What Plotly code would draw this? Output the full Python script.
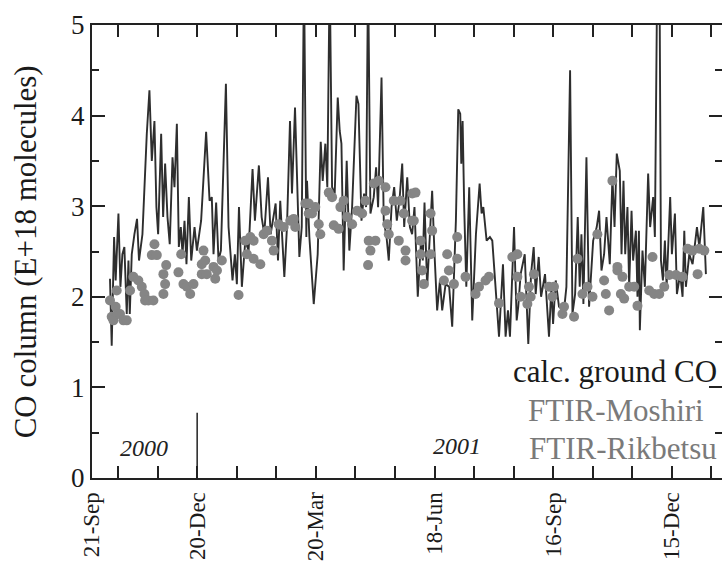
import pandas as pd
import plotly.graph_objects as go

# ---------------- data ----------------
base_date = "2000-09-21"   # day 0 of the day counters below

calc_day = [23.9, 25.2, 27.0, 28.2, 30.3, 31.8, 33.3, 34.8, 36.6, 37.9, 38.9, 40.4, 42.4, 44.4, 45.9,
            48.5, 51.8, 53.8, 55.6, 57.6, 59.1, 60.4, 62.7, 64.2, 65.7, 67.5, 69.2, 71.3, 72.8, 74.6,
            76.1, 77.6, 78.9, 80.4, 81.9, 83.7, 85.5, 88.0, 89.8, 93.0, 96.8, 99.4, 101.1, 102.4, 104.4,
            106.2, 108.0, 110.0, 111.8, 113.8, 116.8, 118.6, 120.1, 121.7, 123.9, 126.5, 129.0, 132.0,
            133.8, 136.8, 138.9, 140.9, 143.7, 145.7, 149.5, 151.3, 153.0, 156.1, 158.1, 160.4, 161.9,
            164.2, 165.7, 167.5, 169.3, 171.0, 172.8, 173.3, 175.1, 178.4, 181.4, 183.7, 185.2, 187.2,
            188.7, 190.5, 192.3, 194.3, 196.6, 198.1, 199.4, 201.1, 203.4, 205.4, 207.5, 209.2, 210.8,
            212.3, 214.6, 216.6, 218.1, 219.6, 221.4, 223.9, 225.7, 227.2, 229.8, 231.5, 233.6, 235.3,
            237.4, 239.4, 241.4, 243.4, 245.5, 247.0, 249.3, 251.3, 253.0, 254.8, 257.3, 259.9, 261.1,
            262.4, 264.4, 266.5, 268.2, 270.0, 272.0, 274.1, 275.8, 278.4, 281.1, 283.4, 286.2, 288.0,
            289.5, 290.3, 291.3, 292.5, 294.1, 296.3, 298.6, 301.4, 304.2, 305.7, 307.0, 309.5, 312.0,
            313.8, 315.6, 318.9, 321.9, 323.9, 325.7, 327.2, 330.3, 332.3, 333.5, 335.3, 338.4, 341.1,
            343.2, 345.2, 346.7, 349.0, 350.8, 353.8, 356.8, 358.6, 359.9, 361.9, 364.4, 368.2, 370.0,
            372.8, 374.6, 376.6, 378.6, 380.1, 381.4, 382.9, 385.2, 387.2, 390.3, 393.0, 394.8, 396.6,
            398.6, 400.4, 402.9, 404.9, 406.5, 408.2, 410.5, 411.8, 413.3, 414.6, 416.3, 417.6, 419.4,
            420.6, 422.7, 423.9, 425.0, 425.7, 427.7, 429.5, 432.0, 433.5, 435.8, 437.1, 438.9, 440.6,
            441.7, 443.2, 444.7, 446.0, 448.7, 450.0, 452.3, 453.8, 456.3, 458.1, 459.4, 460.6, 463.2,
            465.7, 469.0, 470.8, 473.8, 475.8]
calc_co = [2.20, 1.46, 2.66, 2.18, 2.92, 2.11, 2.47, 2.55, 1.81, 2.40, 1.81, 2.47, 2.69, 2.86, 2.40,
           2.69, 3.80, 4.28, 3.50, 3.94, 2.99, 2.69, 3.80, 2.88, 3.47, 2.88, 2.58, 3.54, 3.21, 3.91,
           2.55, 2.77, 2.47, 2.84, 2.36, 3.10, 2.40, 2.77, 2.51, 2.84, 3.82, 3.06, 3.10, 2.47, 3.04,
           2.40, 2.51, 3.58, 4.35, 2.77, 2.18, 2.47, 2.14, 2.99, 2.11, 2.62, 2.51, 3.41,
           2.84, 3.45, 2.88, 2.69, 3.32, 2.69, 3.03, 2.40, 3.06, 2.22, 2.77, 3.94, 3.14,
           4.09, 3.28, 2.44, 2.77, 5.60, 2.66, 3.28, 2.66, 1.92, 2.47, 3.71, 3.28, 3.69,
           3.21, 5.60, 3.21, 3.14, 4.20, 3.83, 3.69, 2.29, 3.50, 2.51, 2.99, 3.58, 4.22,
           4.13, 2.84, 3.14, 2.99, 5.60, 2.92, 3.10, 3.43, 2.99, 4.42, 2.84, 2.66, 2.40,
           2.99, 3.21, 2.84, 3.06, 3.47, 2.77, 3.32, 2.77, 2.69, 2.99, 2.00, 2.66, 2.40,
           3.04, 2.11, 2.69, 3.17, 2.47, 1.85, 2.18, 1.85, 2.14, 2.11, 1.67, 2.84, 4.07,
           4.02, 3.47, 3.94, 2.99, 2.11, 3.21, 1.74, 2.69, 3.25, 2.92, 2.99, 2.62, 2.66,
           2.62, 2.25, 1.56, 2.36, 1.56, 1.85, 1.56, 2.77, 1.74, 1.89, 2.25, 2.47, 1.48,
           2.25, 2.55, 2.03, 2.44, 2.00, 2.25, 1.56, 2.11, 1.70, 2.18, 1.89, 1.85, 2.11,
           4.50, 1.81, 2.03, 2.88, 2.11, 2.69, 1.92, 3.54, 1.89, 2.62, 2.77, 2.95, 2.29,
           2.47, 2.88, 2.36, 3.32, 2.77, 3.58, 3.39, 2.47, 3.28, 2.47, 2.99, 2.11, 2.95,
           2.40, 2.73, 2.00, 2.73, 1.63, 2.51, 2.11, 3.36, 2.77, 3.10, 2.66, 5.60, 5.60,
           2.40, 2.18, 2.62, 2.11, 3.10, 2.47, 2.92, 2.03, 2.25, 2.00, 2.73, 2.11, 2.47,
           2.36, 2.77, 2.55, 2.99, 2.25]

moshiri_day = [23.9, 25.2, 26.5, 28.2, 29.0, 29.7, 31.5, 34.1, 36.6, 39.1, 41.6, 45.4, 48.0, 50.0, 50.5,
               53.0, 55.6, 56.8, 57.6, 59.4, 64.4, 64.4, 65.7, 66.5, 75.8, 77.9, 79.6, 82.2, 84.7, 87.2,
               93.5, 94.8, 96.1, 93.5, 97.3, 102.4, 103.7, 105.0, 108.7, 121.4, 126.5, 127.7, 130.3,
               132.8, 132.8, 137.9, 140.4, 142.9, 146.7, 148.0, 151.8, 155.6, 160.6, 163.2, 164.4,
               172.0, 174.6, 174.6, 177.1, 179.6, 182.2, 183.4, 189.8, 192.3, 193.6, 197.3, 198.6,
               201.1, 203.7, 207.5, 211.3, 215.1, 217.6, 219.6, 220.1, 221.4, 224.0, 225.2, 227.7,
               232.8, 232.8, 234.1, 235.3, 239.1, 242.9, 244.2, 246.7, 248.0, 248.0, 253.1, 254.3]
moshiri_co = [1.96, 1.78, 1.74, 1.89, 2.07, 1.81, 1.81, 1.74, 1.74, 2.07, 2.22, 2.18, 2.11, 2.03, 1.96,
              1.96, 2.46, 1.96, 2.58, 2.46, 2.25, 2.03, 2.14, 2.35, 2.27, 2.47, 2.14, 2.11, 2.03, 2.14,
              2.36, 2.51, 2.40, 2.25, 2.25, 2.33, 2.20, 2.29, 2.40, 2.02, 2.62, 2.47, 2.66,
              2.62, 2.42, 2.36, 2.69, 2.73, 2.62, 2.51, 2.80, 2.77, 2.84, 2.86, 2.77,
              3.03, 2.92, 3.03, 2.92, 2.99, 2.80, 2.69, 3.15, 3.10, 2.79, 2.75, 2.99,
              3.06, 2.88, 2.80, 2.95, 2.92, 3.06, 2.35, 2.62, 2.51, 3.25, 2.62, 3.28,
              3.21, 2.95, 2.80, 2.69, 3.06, 2.62, 3.06, 2.92, 2.51, 2.40, 3.14, 2.84]

rikbetsu_day = [253.0, 255.6, 259.4, 259.4, 260.6, 261.9, 267.0, 268.2, 267.0, 277.1, 279.6, 280.9, 284.7,
                287.2, 287.2, 293.5, 301.1, 303.7, 308.7, 311.3, 318.9, 329.0, 332.8, 332.8, 335.3,
                340.4, 341.6, 342.9, 345.4, 356.8, 359.4, 360.6, 367.0, 368.2, 375.8, 378.4, 382.2,
                386.0, 389.8, 393.5, 398.6, 399.9, 402.4, 404.9, 408.7, 408.7, 411.3, 412.5, 413.8,
                417.6, 421.4, 423.9, 432.8, 435.3, 436.6, 440.4, 444.2, 448.0, 453.1, 458.1, 461.9,
                465.7, 469.5, 470.8, 474.6]
rikbetsu_co = [2.84, 3.15, 2.62, 2.47, 2.29, 2.14, 2.92, 2.73, 2.47, 2.18, 2.47, 2.29, 2.14,
               2.66, 2.42, 2.22, 2.03, 2.11, 2.18, 2.22, 1.93, 2.44, 2.22, 2.47, 2.00,
               1.92, 2.11, 2.00, 2.25, 2.11, 2.00, 2.11, 1.81, 1.89, 1.78, 2.42, 2.03,
               2.11, 2.00, 2.69, 2.18, 2.03, 1.85, 3.28, 2.29, 2.33, 2.03, 2.22, 1.98,
               2.11, 2.11, 1.90, 2.07, 2.44, 2.03, 2.03, 2.11, 2.24, 2.24, 2.22, 2.53,
               2.51, 2.25, 2.53, 2.51]

tick_dates = ["2000-10-01 06:00", "2000-10-21", "2000-11-20", "2000-12-20", "2001-01-19", "2001-02-18",
              "2001-03-20", "2001-04-19", "2001-05-19", "2001-06-18", "2001-07-18", "2001-08-17",
              "2001-09-16", "2001-10-16", "2001-11-15", "2001-12-15", "2002-01-14"]
tick_labels = ["21-Sep", "", "", "20-Dec", "", "", "20-Mar", "", "", "18-Jun", "", "",
               "16-Sep", "", "", "15-Dec", ""]
x_range = ["2000-10-01 06:00", "2002-01-22"]
y_range = [0, 5]

year_labels = ["2000", "2001"]
year_label_dates = ["2000-11-10", "2001-07-05"]
year_label_vals = [0.33, 0.35]
year_divider_date = "2000-12-20"
year_divider_top = 0.72

series_names = ["calc. ground CO", "FTIR-Moshiri", "FTIR-Rikbetsu"]

# ---------------- build ----------------
b = pd.Timestamp(base_date)
to_dates = lambda days: [b + pd.Timedelta(days=d) for d in days]

LINE_C = "#2e2e2e"
DOT_C = "#858585"
FONT = "Liberation Serif"

fig = go.Figure()
fig.add_trace(go.Scatter(x=to_dates(calc_day), y=calc_co, mode="lines", name=series_names[0],
                         line=dict(color=LINE_C, width=1.9)))
fig.add_trace(go.Scatter(x=to_dates(moshiri_day), y=moshiri_co, mode="markers", name=series_names[1],
                         marker=dict(color=DOT_C, size=10, line=dict(width=0))))
fig.add_trace(go.Scatter(x=to_dates(rikbetsu_day), y=rikbetsu_co, mode="markers", name=series_names[2],
                         marker=dict(color=DOT_C, size=10, line=dict(width=0))))

fig.add_shape(type="line", xref="x", yref="y", x0=year_divider_date, x1=year_divider_date,
              y0=0, y1=year_divider_top, line=dict(color="#222", width=1.5))

for t, d, v in zip(year_labels, year_label_dates, year_label_vals):
    fig.add_annotation(x=d, y=v, xref="x", yref="y", text=t, showarrow=False,
                       font=dict(family=FONT, size=24, color="#222", style="italic"))

legend_pos = [(0.830, 0.235), (0.832, 0.150), (0.843, 0.066)]
legend_cols = ["#1a1a1a", "#7a7a7a", "#7a7a7a"]
for name, (px, py), c in zip(series_names, legend_pos, legend_cols):
    fig.add_annotation(x=px, y=py, xref="paper", yref="paper", text=name, showarrow=False,
                       xanchor="center", yanchor="middle",
                       font=dict(family=FONT, size=31, color=c))

fig.add_annotation(x=-0.105, y=0.5, xref="paper", yref="paper", text="CO column (E+18 molecules)",
                   showarrow=False, textangle=-90, xanchor="center", yanchor="middle",
                   font=dict(family=FONT, size=31, color="#1a1a1a"))

fig.update_layout(
    width=722, height=564,
    margin=dict(l=92, r=0, t=25, b=86),
    paper_bgcolor="white", plot_bgcolor="white",
    showlegend=False,
    font=dict(family=FONT, color="#1a1a1a"),
    xaxis=dict(type="date", range=x_range, tickmode="array", tickvals=tick_dates, ticktext=tick_labels,
               tickangle=-90, ticks="inside", ticklen=12, tickwidth=1.5, tickcolor="#222",
               showline=True, linecolor="#222", linewidth=2, mirror="ticks", showgrid=False,
               zeroline=False, automargin=False, ticklabelstandoff=3,
               tickfont=dict(family=FONT, size=23, color="#1a1a1a")),
    yaxis=dict(range=y_range, tickmode="linear", tick0=0, dtick=1, ticks="inside", ticklen=13,
               tickwidth=1.5, tickcolor="#222", showline=True, linecolor="#222", linewidth=2,
               mirror="ticks", showgrid=False, zeroline=False, automargin=False,
               minor=dict(dtick=0.5, ticks="inside", ticklen=7, tickwidth=1.5, tickcolor="#222",
                          showgrid=False),
               tickfont=dict(family=FONT, size=27, color="#1a1a1a")),
)

fig.write_html("out.html", config={"displayModeBar": False},
               post_script="document.body.style.margin='0';document.body.style.overflow='hidden';")
